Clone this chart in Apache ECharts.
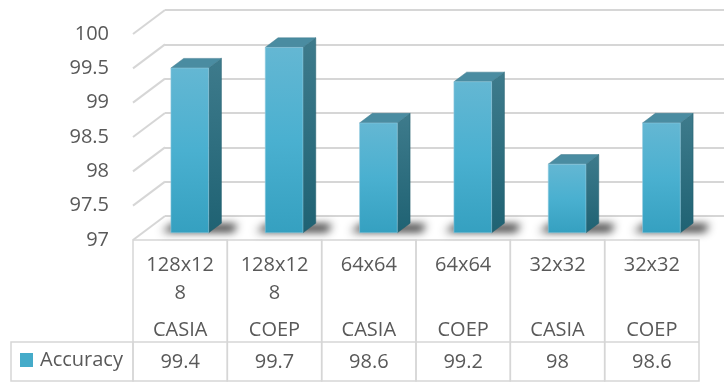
<!DOCTYPE html>
<html>
<head>
<meta charset="utf-8">
<script src="https://cdn.jsdelivr.net/npm/echarts@6/dist/echarts.min.js"></script>
<style>
html, body { margin: 0; padding: 0; background: #fff; }
#main { width: 724px; height: 383px; }
</style>
</head>
<body>
<div id="main"></div>
<script>
var sizes = ['128x128', '128x128', '64x64', '64x64', '32x32', '32x32'];
var datasets = ['CASIA', 'COEP', 'CASIA', 'COEP', 'CASIA', 'COEP'];
var accuracy = [99.4, 99.7, 98.6, 99.2, 98, 98.6];
var yTicks = [97, 97.5, 98, 98.5, 99, 99.5, 100];

var DX = 32, DY = -24; // depth of the 3d box
var FONT = '"Open Sans", sans-serif';
var TXT = '#595959';
var GRID_LINE = '#d6d6d6';
var TABLE_ROW = 342, TABLE_BOTTOM = 381, TABLE_LEFT = 11;
var OFF = 3000; // shadow is drawn from off screen so only the blur shows

var chart = echarts.init(document.getElementById('main'));

var frontFill = new echarts.graphic.LinearGradient(0, 0, 0, 1, [
    { offset: 0, color: '#64b7d3' },
    { offset: 0.5, color: '#4ab0d0' },
    { offset: 1, color: '#35a0c0' }
]);
var sideFill = new echarts.graphic.LinearGradient(0, 0, 0, 1, [
    { offset: 0, color: '#3e7b8c' },
    { offset: 1, color: '#1f6273' }
]);

function renderBar(params, api) {
    var i = api.value(0);
    var band = api.size([1, 0])[0];
    var c = api.coord([i, api.value(1)]);
    var b = api.coord([i, 97]);
    var w = band * 0.4;
    var ox = DX * 0.3, oy = DY * 0.3;
    var dx = DX * 0.4, dy = DY * 0.4;
    var xl = c[0] + ox - w / 2, xr = xl + w;
    var yt = c[1] + oy, yb = b[1] + oy;

    var children = [];
    // table cells under each category
    var cl = c[0] - band / 2;
    children.push({
        type: 'rect', shape: { x: cl, y: b[1], width: band, height: TABLE_BOTTOM - b[1] },
        style: { fill: null, stroke: GRID_LINE, lineWidth: 1.5 }
    });
    children.push({
        type: 'line', shape: { x1: cl, y1: TABLE_ROW, x2: cl + band, y2: TABLE_ROW },
        style: { stroke: GRID_LINE, lineWidth: 1.5 }
    });
    if (params.dataIndex === 0) {
        children.push({
            type: 'rect', shape: { x: TABLE_LEFT, y: TABLE_ROW, width: cl - TABLE_LEFT, height: TABLE_BOTTOM - TABLE_ROW },
            style: { fill: null, stroke: GRID_LINE, lineWidth: 1.5 }
        });
    }
    // floor shadow
    children.push({
        type: 'polygon',
        shape: { points: [[xl - 9 - OFF, yb - 1], [xr + dx + 12 - OFF, yb - 1], [xr + dx + 16 - OFF, yb + dy + 1], [xl + 2 - OFF, yb + dy + 1]] },
        style: { fill: '#000', shadowBlur: 9, shadowColor: 'rgba(0,0,0,0.85)', shadowOffsetX: OFF }
    });
    children.push({
        type: 'polygon',
        shape: { points: [[xr, yt], [xr + dx, yt + dy], [xr + dx, yb + dy], [xr, yb]] },
        style: { fill: sideFill, stroke: 'rgba(30,90,105,0.8)', lineWidth: 0.6 }
    });
    children.push({
        type: 'polygon',
        shape: { points: [[xl, yt], [xl + dx, yt + dy], [xr + dx, yt + dy], [xr, yt]] },
        style: { fill: '#4a8ca1', stroke: 'rgba(60,120,140,0.8)', lineWidth: 0.6 }
    });
    children.push({
        type: 'rect',
        shape: { x: xl, y: yt, width: w, height: yb - yt },
        style: { fill: frontFill, stroke: 'rgba(150,205,225,0.7)', lineWidth: 0.8 }
    });
    return { type: 'group', children: children };
}

function renderWall(params, api) {
    var cs = params.coordSys;
    var y = api.coord([0, api.value(1)])[1];
    return {
        type: 'line', shape: { x1: cs.x, y1: y, x2: cs.x + DX, y2: y + DY },
        style: { stroke: GRID_LINE, lineWidth: 2 }
    };
}

var hiddenAxis = { axisLine: { show: false }, axisTick: { show: false }, splitLine: { show: false } };

option = {
    animation: false,
    backgroundColor: '#fff',
    color: ['#45abc9'],
    legend: {
        data: ['Accuracy'],
        left: 20,
        top: 350,
        padding: 0,
        icon: 'rect',
        itemWidth: 13,
        itemHeight: 14,
        itemGap: 0,
        textStyle: { fontFamily: FONT, fontSize: 20, color: TXT, padding: [0, 0, 0, 2] }
    },
    grid: [
        { left: 133, right: 25, top: 34, bottom: 143 },
        { left: 165, right: -10, top: 10, bottom: 167 }
    ],
    xAxis: [
        Object.assign({
            type: 'category', gridIndex: 0, position: 'bottom', data: sizes,
            axisLabel: {
                margin: 11, fontFamily: FONT, fontSize: 20, color: TXT, lineHeight: 28,
                width: 74, overflow: 'breakAll', interval: 0
            }
        }, hiddenAxis),
        Object.assign({
            type: 'category', gridIndex: 0, position: 'bottom', data: datasets,
            axisLabel: { margin: 76, fontFamily: FONT, fontSize: 20, color: TXT, lineHeight: 28, interval: 0 }
        }, hiddenAxis),
        Object.assign({
            type: 'category', gridIndex: 0, position: 'bottom', data: accuracy.map(String),
            axisLabel: { margin: 108, fontFamily: FONT, fontSize: 20, color: TXT, lineHeight: 28, interval: 0 }
        }, hiddenAxis),
        Object.assign({
            type: 'category', gridIndex: 1, data: sizes, axisLabel: { show: false }
        }, hiddenAxis)
    ],
    yAxis: [
        Object.assign({
            type: 'value', gridIndex: 0, min: 97, max: 100, interval: 0.5,
            axisLabel: { margin: 24, fontFamily: FONT, fontSize: 20, color: TXT }
        }, hiddenAxis),
        {
            type: 'value', gridIndex: 1, min: 97, max: 100, interval: 0.5,
            axisLine: { show: false }, axisTick: { show: false }, axisLabel: { show: false },
            splitLine: { show: true, lineStyle: { color: GRID_LINE, width: 2 } }
        }
    ],
    series: [
        {
            name: 'wall',
            type: 'custom',
            xAxisIndex: 0, yAxisIndex: 0,
            renderItem: renderWall,
            silent: true,
            data: yTicks.map(function (v) { return [0, v]; }),
            z: 1
        },
        {
            name: 'Accuracy',
            type: 'custom',
            xAxisIndex: 0, yAxisIndex: 0,
            renderItem: renderBar,
            clip: false,
            itemStyle: { color: '#45abc9' },
            data: accuracy.map(function (v, i) { return [i, v]; }),
            z: 2
        }
    ]
};

chart.setOption(option);
</script>
</body>
</html>
